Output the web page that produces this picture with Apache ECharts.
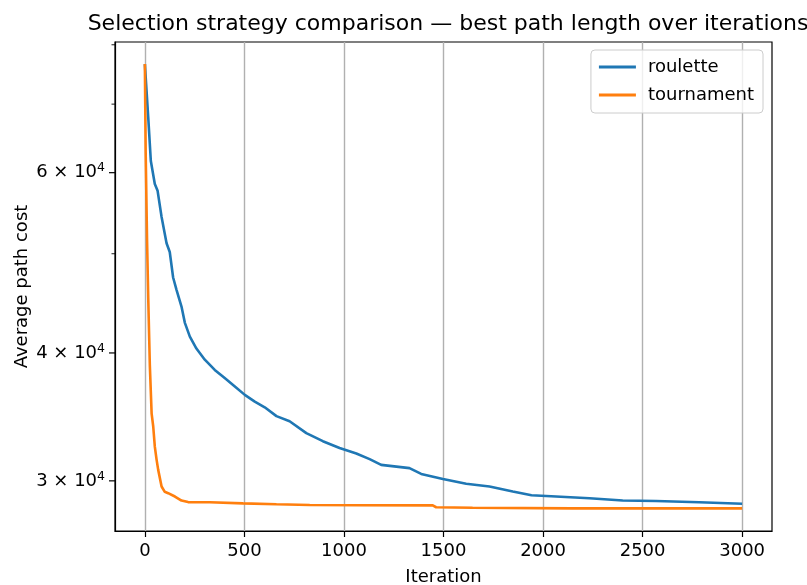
<!DOCTYPE html>
<html>
<head>
<meta charset="utf-8">
<script src="https://cdn.jsdelivr.net/npm/echarts@6/dist/echarts.min.js"></script>
<style>
  html, body { margin: 0; padding: 0; background: #fff; }
  #main { width: 807px; height: 585px; }
</style>
</head>
<body>
<div id="main"></div>
<script>
// data
var seriesNames = ['roulette', 'tournament'];

var rouletteIter = [0, 17, 30, 50, 64, 84, 109, 125, 142, 159, 184, 201, 226, 259, 301, 351, 401, 452,
  502, 552, 602, 661, 727, 811, 894, 978, 1062, 1129, 1187, 1329, 1388, 1497, 1614, 1731, 1848,
  1942, 2065, 2233, 2400, 2567, 2784, 3000];
var rouletteCost = [76600, 67900, 61600, 58500, 57600, 54300, 51200, 50200, 47400, 46100, 44400, 42800,
  41500, 40400, 39400, 38500, 37800, 37100, 36400, 35850, 35400, 34700, 34300, 33400, 32800, 32300,
  31900, 31500, 31100, 30870, 30470, 30130, 29800, 29620, 29290, 29040, 28960, 28850, 28700, 28670,
  28590, 28490];

var tournamentIter = [0, 4, 11, 17, 25, 34, 42, 50, 59, 67, 84, 100, 117, 151, 184, 217, 326, 493, 661,
  828, 1079, 1446, 1463, 1646, 2147, 3000];
var tournamentCost = [76600, 62900, 51500, 45200, 38900, 34900, 33900, 32400, 31450, 30750, 29620, 29270,
  29180, 28960, 28700, 28600, 28590, 28520, 28460, 28410, 28400, 28390, 28270, 28240, 28200, 28200];

var xTicks = [0, 500, 1000, 1500, 2000, 2500, 3000];
var yMajorTicks = [30000, 40000, 60000];
var yMinorTicks = [50000, 70000, 80000];

function pairs(xs, ys) {
  return xs.map(function (x, i) { return [x, ys[i]]; });
}

var font = 'DejaVu Sans';
var fs = 18;
var chart = echarts.init(document.getElementById('main'));

var option = {
  animation: false,
  title: {
    text: 'Selection strategy comparison \u2014 best path length over iterations',
    left: 443,
    top: 8,
    textAlign: 'center',
    textStyle: { fontFamily: font, fontSize: 22, fontWeight: 'normal', color: '#000' }
  },
  legend: {
    data: seriesNames,
    orient: 'vertical',
    right: 44,
    top: 50,
    padding: [8, 9, 9, 8],
    itemGap: 10,
    itemWidth: 37,
    itemHeight: 3,
    icon: 'rect',
    borderColor: '#cccccc',
    borderWidth: 1,
    borderRadius: 4,
    backgroundColor: 'rgba(255,255,255,0.8)',
    textStyle: { fontFamily: font, fontSize: fs, color: '#000', padding: [0, 0, 0, 7] }
  },
  grid: {
    left: 115, right: 35, top: 42, bottom: 54,
    outerBoundsMode: 'none',
    show: true, borderColor: '#000', borderWidth: 1.2
  },
  xAxis: {
    type: 'value',
    min: -150,
    max: 3150,
    name: 'Iteration',
    nameLocation: 'middle',
    nameGap: 37,
    nameTextStyle: { fontFamily: font, fontSize: fs, color: '#000' },
    axisLine: { lineStyle: { color: '#000', width: 1.2 } },
    axisTick: { length: 6, customValues: xTicks, lineStyle: { color: '#000', width: 1.2 } },
    axisLabel: {
      customValues: xTicks, margin: 11, fontFamily: font, fontSize: fs, color: '#000',
      formatter: function (v) { return String(v); }
    },
    splitLine: { show: true, lineStyle: { color: '#b0b0b0', width: 1.4 } }
  },
  yAxis: {
    type: 'log',
    logBase: 10,
    min: 26800,
    max: 80500,
    name: 'Average path cost',
    nameLocation: 'middle',
    nameGap: 84,
    nameRotate: 90,
    nameTextStyle: { fontFamily: font, fontSize: fs, color: '#000' },
    axisLine: { show: true, onZero: false, lineStyle: { color: '#000', width: 1.2 } },
    axisTick: { show: false },
    axisLabel: { show: false },
    splitLine: { show: false }
  },
  series: [
    {
      name: seriesNames[0],
      type: 'line',
      data: pairs(rouletteIter, rouletteCost),
      showSymbol: false,
      color: '#1f77b4',
      lineStyle: { width: 2.6 }
    },
    {
      name: seriesNames[1],
      type: 'line',
      data: pairs(tournamentIter, tournamentCost),
      showSymbol: false,
      color: '#ff7f0e',
      lineStyle: { width: 2.6 }
    }
  ]
};

chart.setOption(option);

// log-axis ticks in matplotlib style (a × 10^b), placed through the axis scale
var axisX = 115;
var gfx = [];
yMajorTicks.concat(yMinorTicks).forEach(function (v) {
  var y = chart.convertToPixel({ yAxisIndex: 0 }, v);
  var major = yMajorTicks.indexOf(v) >= 0;
  gfx.push({
    type: 'line',
    shape: { x1: axisX - (major ? 6 : 3.5), y1: y, x2: axisX, y2: y },
    style: { stroke: '#000', lineWidth: major ? 1.2 : 0.9 }
  });
  if (major) {
    var mant = v / 10000;
    gfx.push({
      type: 'text',
      x: axisX - 10,
      y: y,
      style: {
        text: '{m|' + mant + ' \u00d7 10}{s|4}',
        align: 'right',
        verticalAlign: 'middle',
        rich: {
          m: { fontFamily: font, fontSize: fs, color: '#000', lineHeight: 22 },
          s: { fontFamily: font, fontSize: 12.5, color: '#000', verticalAlign: 'top', lineHeight: 22 }
        }
      }
    });
  }
});
chart.setOption({ graphic: gfx });
</script>
</body>
</html>
